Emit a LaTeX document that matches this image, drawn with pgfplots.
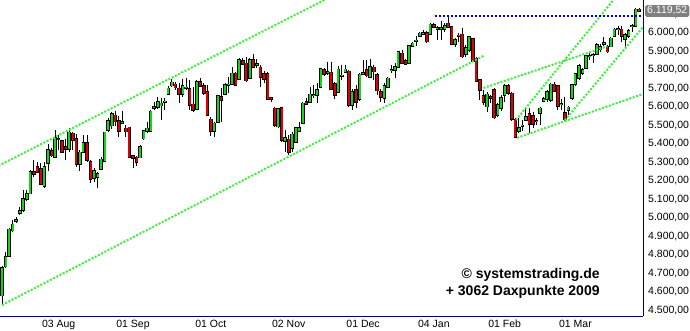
\documentclass[border=0pt]{standalone}
\usepackage{fontspec}
\setmainfont{Liberation Sans}
\usepackage{pgfplots}
\pgfplotsset{compat=1.18}
\usepackage{pgfplotstable}
\definecolor{cgreen}{RGB}{20,215,20}
\definecolor{cred}{RGB}{225,0,0}
\definecolor{tline}{RGB}{60,240,60}
\definecolor{navyax}{RGB}{0,0,128}
\definecolor{bdot}{RGB}{0,0,255}
\definecolor{lblgray}{RGB}{128,128,128}

\pgfplotstableread{
i o h l c
0 4578 4736 4527 4728
1 4735 4816 4726 4789
2 4794 4945 4788 4937
3 4930 4988 4921 4964
4 4983 5006 4970 4987
5 5024 5060 5015 5036
6 5040 5150 5033 5100
7 5100 5150 5090 5128
8 5130 5258 5127 5249
9 5246 5312 5222 5235
10 5273 5303 5240 5249
11 5264 5294 5177 5181
12 5173 5303 5162 5273
13 5294 5397 5253 5366
14 5361 5376 5330 5336
15 5330 5475 5322 5433
16 5428 5448 5367 5424
17 5415 5421 5349 5357
18 5384 5426 5312 5372
19 5370 5484 5357 5462
20 5457 5466 5367 5421
21 5425 5452 5276 5289
22 5289 5366 5253 5354
23 5357 5448 5349 5403
24 5403 5448 5303 5311
25 5303 5312 5186 5210
26 5214 5267 5192 5255
27 5219 5249 5162 5237
28 5264 5330 5258 5316
29 5306 5466 5303 5462
30 5473 5538 5466 5524
31 5499 5574 5480 5560
32 5554 5578 5496 5520
33 5524 5551 5435 5471
34 5514 5578 5507 5518
35 5484 5502 5435 5466
36 5489 5493 5321 5330
37 5334 5339 5267 5321
38 5327 5334 5280 5303
39 5325 5394 5321 5385
40 5428 5475 5421 5468
41 5468 5520 5460 5484
42 5471 5583 5466 5576
43 5594 5628 5583 5598
44 5598 5652 5587 5625
45 5607 5646 5529 5619
46 5626 5650 5583 5630
47 5668 5713 5664 5700
48 5715 5749 5709 5733
49 5722 5737 5691 5704
50 5700 5727 5619 5668
51 5668 5749 5655 5713
52 5702 5755 5691 5706
53 5697 5746 5583 5608
54 5614 5709 5574 5583
55 5590 5746 5587 5737
56 5737 5755 5706 5713
57 5713 5727 5664 5673
58 5679 5718 5551 5554
59 5532 5547 5442 5468
60 5471 5520 5439 5511
61 5518 5664 5511 5659
62 5655 5700 5520 5637
63 5668 5727 5664 5718
64 5718 5763 5673 5722
65 5722 5817 5718 5781
66 5781 5790 5715 5718
67 5749 5863 5745 5854
68 5848 5863 5827 5830
69 5836 5872 5736 5742
70 5754 5863 5749 5854
71 5854 5884 5812 5814
72 5828 5859 5808 5832
73 5814 5827 5709 5763
74 5778 5794 5727 5749
75 5778 5790 5637 5641
76 5650 5655 5628 5643
77 5592 5601 5493 5502
78 5493 5596 5484 5588
79 5596 5601 5411 5419
80 5415 5475 5357 5433
81 5424 5448 5339 5357
82 5375 5466 5357 5451
83 5408 5493 5402 5487
84 5471 5520 5466 5487
85 5511 5628 5505 5619
86 5628 5646 5610 5615
87 5624 5709 5619 5668
88 5662 5718 5646 5666
89 5664 5727 5619 5691
90 5709 5812 5700 5805
91 5799 5808 5769 5776
92 5785 5845 5772 5789
93 5787 5845 5691 5697
94 5724 5736 5641 5664
95 5682 5821 5677 5803
96 5767 5827 5745 5771
97 5787 5827 5781 5803
98 5792 5800 5601 5610
99 5610 5695 5583 5682
100 5691 5718 5592 5628
101 5641 5781 5634 5776
102 5779 5854 5772 5783
103 5800 5854 5763 5769
104 5763 5857 5754 5818
105 5814 5827 5745 5791
106 5772 5781 5664 5688
107 5682 5695 5628 5652
108 5646 5727 5619 5713
109 5709 5763 5700 5754
110 5797 5827 5781 5801
111 5800 5836 5754 5818
112 5814 5904 5809 5899
113 5890 5908 5836 5839
114 5848 5857 5827 5832
115 5836 5935 5832 5929
116 5931 5953 5926 5944
117 5956 5984 5930 5960
118 5984 6007 5980 5998
119 5996 6016 5989 6000
120 6002 6011 5944 5953
121 5994 6052 5989 6047
122 6043 6052 6025 6030
123 6023 6038 5962 6027
124 6022 6065 5962 6027
125 6022 6052 6007 6040
126 6052 6088 6029 6034
127 6034 6040 5935 5939
128 5939 5971 5926 5962
129 5983 5998 5953 5987
130 5993 6025 5863 5872
131 5886 5935 5872 5921
132 5908 5980 5899 5977
133 5967 5975 5841 5848
134 5863 5872 5733 5740
135 5746 5751 5637 5691
136 5661 5691 5610 5628
137 5601 5679 5574 5668
138 5652 5665 5620 5646
139 5691 5700 5534 5542
140 5556 5619 5547 5610
141 5592 5664 5578 5650
142 5664 5722 5624 5713
143 5713 5722 5664 5673
144 5673 5679 5524 5533
145 5529 5538 5430 5435
146 5471 5538 5457 5487
147 5496 5529 5469 5500
148 5527 5592 5524 5545
149 5560 5592 5457 5507
150 5551 5574 5484 5507
151 5522 5538 5502 5526
152 5565 5601 5502 5592
153 5632 5655 5628 5643
154 5643 5691 5628 5679
155 5637 5727 5628 5722
156 5722 5733 5679 5686
157 5713 5718 5583 5605
158 5613 5641 5583 5617
159 5569 5655 5525 5533
160 5583 5605 5556 5597
161 5646 5724 5637 5718
162 5722 5785 5713 5778
163 5754 5832 5745 5821
164 5781 5808 5772 5799
165 5808 5881 5803 5875
166 5873 5890 5854 5877
167 5879 5890 5836 5883
168 5886 5944 5881 5935
169 5911 5939 5899 5926
170 5942 5976 5930 5946
171 5926 5935 5893 5899
172 5926 5976 5922 5971
173 5984 6025 5980 6020
174 6018 6038 5989 6022
175 6020 6038 5953 5984
176 5966 5998 5911 5989
177 5984 6020 5971 6013
178 6036 6049 6007 6040
179 6038 6134 6034 6128
180 6128 6134 6114 6119.52
}\candles

\begin{document}
\begin{tikzpicture}
\fill[white] (0,-14pt) rectangle (690pt,316pt);
\begin{axis}[
  at={(0,0)}, anchor=south west,
  scale only axis, width=643pt, height=316pt,
  xmin=-0.565, xmax=181.07, ymin=4467.8, ymax=6178.7,
  axis x line*=bottom, axis y line*=right,
  axis line style={navyax, line width=1pt},
  xtick={16,37,59,81,102,122,142,162},
  xticklabels={03 Aug, 01 Sep, 01 Oct, 02 Nov, 01 Dec, 04 Jan, 01 Feb, 01 Mar},
  ytick={4500,4600,4700,4800,4900,5000,5100,5200,5300,5400,5500,5600,5700,5800,5900,6000,6100},
  scaled y ticks=false,
  major tick length=0pt,
  xticklabel style={font=\fontsize{10.5}{12}\selectfont, inner sep=0pt, anchor=north, yshift=-3.5pt},
  yticklabel style={font=\fontsize{10.5}{12}\selectfont, inner sep=0pt, anchor=west, xshift=5pt,
    /pgf/number format/fixed, /pgf/number format/fixed zerofill, /pgf/number format/precision=2,
    /pgf/number format/use comma, /pgf/number format/1000 sep={.}, /pgf/number format/assume math mode=true},
  clip=true,
]
% wicks
\addplot[draw=none, mark=none, forget plot,
  error bars/.cd, y dir=minus, y explicit, error mark=none,
  error bar style={draw=black, line width=0.9pt, line cap=butt}]
  table[x=i, y=h, y error minus expr={\thisrow{h}-\thisrow{l}}] {\candles};
% body outline
\addplot[draw=none, mark=none, forget plot,
  error bars/.cd, y dir=minus, y explicit, error mark=none,
  error bar style={draw=black, line width=3.6pt, line cap=butt}]
  table[x=i, y expr={max(\thisrow{o},\thisrow{c})+4.3}, y error minus expr={abs(\thisrow{c}-\thisrow{o})+8.6}] {\candles};
% up bodies
\addplot[draw=none, mark=none, forget plot,
  restrict expr to domain={\thisrow{c}-\thisrow{o}}{0:10000},
  error bars/.cd, y dir=minus, y explicit, error mark=none,
  error bar style={draw=cgreen, line width=2.0pt, line cap=butt}]
  table[x=i, y expr={max(\thisrow{o},\thisrow{c})}, y error minus expr={abs(\thisrow{c}-\thisrow{o})}] {\candles};
% down bodies
\addplot[draw=none, mark=none, forget plot,
  restrict expr to domain={\thisrow{c}-\thisrow{o}}{-10000:0},
  error bars/.cd, y dir=minus, y explicit, error mark=none,
  error bar style={draw=cred, line width=2.0pt, line cap=butt}]
  table[x=i, y expr={max(\thisrow{o},\thisrow{c})}, y error minus expr={abs(\thisrow{c}-\thisrow{o})}] {\candles};
% trend lines
\addplot[tline, line width=2pt, dash pattern=on 2pt off 1.6pt] coordinates {(-1,5280.8) (92,6187.6)};
\addplot[tline, line width=2pt, dash pattern=on 2pt off 1.6pt] coordinates {(0,4527) (136,5876)};
\addplot[tline, line width=2pt, dash pattern=on 2pt off 1.6pt] coordinates {(136,5702) (171,5928)};
\addplot[tline, line width=2pt, dash pattern=on 2pt off 1.6pt] coordinates {(145.2,5529) (173,6186)};
\addplot[tline, line width=2pt, dash pattern=on 2pt off 1.6pt] coordinates {(159,5528) (181.07,6032)};
\addplot[tline, line width=2pt, dash pattern=on 2pt off 1.6pt] coordinates {(145.5,5432) (181.07,5670)};
\addplot[bdot, line width=2pt, dash pattern=on 2pt off 2pt] coordinates {(122.3,6092) (181.07,6092)};
\node[anchor=east, align=right, font=\fontsize{14}{17}\selectfont\bfseries] at (rel axis cs:0.938,0.103) {© systemstrading.de\\+ 3062 Daxpunkte 2009};
\end{axis}
\node[anchor=west, fill=lblgray, text=white, inner xsep=2pt, inner ysep=1.5pt, rounded corners=1.5pt, font=\fontsize{10.5}{12}\selectfont] at (645pt,305pt) {6.119,52};
\pgfresetboundingbox
\useasboundingbox (0,-14pt) rectangle (690pt,316pt);
\end{tikzpicture}
\end{document}
